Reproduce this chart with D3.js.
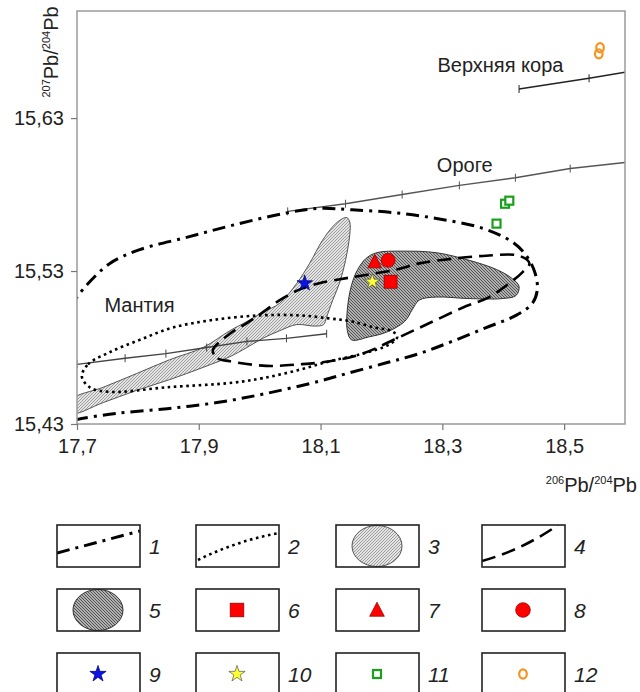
<!DOCTYPE html>
<html>
<head>
<meta charset="utf-8">
<script src="https://cdn.jsdelivr.net/npm/d3@7"></script>
<style>
  body { margin: 0; background: #fff; }
  svg { display: block; font-family: "Liberation Sans", Arial, sans-serif; }
</style>
</head>
<body>
<div id="chart"></div>
<script>
// ======================= DATA =======================================
const xTicks = [17.7, 17.9, 18.1, 18.3, 18.5];
const yTicks = [15.43, 15.53, 15.63];

// growth curves (206Pb/204Pb, 207Pb/204Pb)
const mantleCurve = [[17.700, 15.469], [17.779, 15.473], [17.846, 15.476], [17.913, 15.480],
  [17.979, 15.484], [18.044, 15.486], [18.110, 15.489]];
const orogeneCurve = [[18.046, 15.569], [18.141, 15.574], [18.234, 15.580], [18.328, 15.586],
  [18.420, 15.591], [18.510, 15.597], [18.600, 15.601]];
const crustCurve = [[18.426, 15.649], [18.541, 15.656], [18.600, 15.660]];

// field 1 (dash-dot, open at left axis)
const field1 = [[17.690, 15.506], [17.700, 15.513], [17.721, 15.523], [17.754, 15.535], [17.803, 15.544],
  [17.880, 15.552], [17.956, 15.560], [18.044, 15.568], [18.098, 15.571], [18.152, 15.570],
  [18.225, 15.568], [18.295, 15.564], [18.366, 15.558], [18.415, 15.549], [18.438, 15.540],
  [18.452, 15.529], [18.456, 15.518], [18.448, 15.509], [18.421, 15.501], [18.372, 15.493],
  [18.316, 15.484], [18.262, 15.476], [18.208, 15.470], [18.143, 15.463], [18.098, 15.458],
  [18.011, 15.450], [17.930, 15.444], [17.848, 15.440], [17.766, 15.437], [17.700, 15.433],
  [17.690, 15.432]];

// field 2 (dotted)
const field2 = [[17.708, 15.461], [17.718, 15.469], [17.754, 15.477], [17.803, 15.485], [17.857, 15.493],
  [17.923, 15.498], [18.000, 15.501], [18.066, 15.501], [18.115, 15.499], [18.152, 15.497],
  [18.189, 15.493], [18.216, 15.491], [18.226, 15.487], [18.213, 15.482], [18.169, 15.476],
  [18.115, 15.471], [18.061, 15.465], [18.005, 15.460], [17.956, 15.457], [17.848, 15.454],
  [17.754, 15.451], [17.721, 15.454]];

// field 3 (light grey)
const field3 = [[17.692, 15.446], [17.743, 15.454], [17.798, 15.463], [17.852, 15.472], [17.907, 15.480],
  [17.951, 15.491], [17.979, 15.497], [18.005, 15.503], [18.033, 15.509], [18.061, 15.522],
  [18.082, 15.535], [18.103, 15.550], [18.120, 15.559], [18.131, 15.563], [18.143, 15.565],
  [18.148, 15.562], [18.148, 15.554], [18.141, 15.537], [18.131, 15.522], [18.120, 15.511],
  [18.110, 15.500], [18.105, 15.495], [18.090, 15.494], [18.061, 15.495], [18.033, 15.491],
  [18.005, 15.486], [17.979, 15.480], [17.951, 15.474], [17.907, 15.467], [17.852, 15.459],
  [17.798, 15.452], [17.743, 15.444], [17.692, 15.437]];

// field 4 (dashed)
const field4 = [[17.923, 15.478], [17.931, 15.473], [17.951, 15.471], [18.011, 15.468], [18.066, 15.469],
  [18.115, 15.471], [18.169, 15.476], [18.225, 15.486], [18.279, 15.496], [18.333, 15.506],
  [18.377, 15.513], [18.410, 15.522], [18.431, 15.529], [18.443, 15.535], [18.426, 15.540],
  [18.372, 15.540], [18.316, 15.538], [18.262, 15.535], [18.225, 15.531], [18.152, 15.526],
  [18.098, 15.522], [18.066, 15.518], [18.033, 15.511], [18.005, 15.503], [17.979, 15.496],
  [17.951, 15.489]];

// field 5 (dark grey)
const field5 = [[18.192, 15.542], [18.234, 15.543], [18.290, 15.542], [18.344, 15.537], [18.389, 15.531],
  [18.415, 15.525], [18.426, 15.520], [18.421, 15.514], [18.398, 15.512], [18.344, 15.512],
  [18.290, 15.513], [18.262, 15.511], [18.251, 15.505], [18.238, 15.497], [18.208, 15.490],
  [18.180, 15.487], [18.151, 15.485], [18.144, 15.491], [18.144, 15.505], [18.151, 15.521],
  [18.161, 15.531], [18.174, 15.538]];

// samples
const sample6 = [[18.215, 15.523]];
const sample7 = [[18.189, 15.536]];
const sample8 = [[18.211, 15.537]];
const sample9 = [[18.074, 15.522]];
const sample10 = [[18.185, 15.523]];
const sample11 = [[18.389, 15.561], [18.403, 15.574], [18.410, 15.576]];
const sample12 = [[18.559, 15.676], [18.557, 15.672]];

const curveLabels = ["Верхняя кора", "Ороге", "Мантия"];
const curveLabelAt = [[18.292, 15.660], [18.291, 15.595], [17.745, 15.503]];
const legendLabels = ["1", "2", "3", "4", "5", "6", "7", "8", "9", "10", "11", "12"];

// ======================= CHART ======================================
const W = 640, H = 692;
const x = d3.scaleLinear().domain([17.7, 18.6]).range([77, 625]);
const y = d3.scaleLinear().domain([15.43, 15.70]).range([424, 11]);

const svg = d3.select("#chart").append("svg").attr("width", W).attr("height", H);
svg.append("rect").attr("width", W).attr("height", H).attr("fill", "#fff");

const defs = svg.append("defs");
defs.append("clipPath").attr("id", "plotClip")
  .append("rect").attr("x", 77).attr("y", 11).attr("width", 548).attr("height", 413);

const hatch = (id, bg, fg, dir) => {
  let p = defs.append("pattern").attr("id", id).attr("patternUnits", "userSpaceOnUse")
    .attr("width", 3).attr("height", 3);
  p.append("rect").attr("width", 3).attr("height", 3).attr("fill", bg);
  p.append("path")
    .attr("d", dir > 0 ? "M-1,1 l2,-2 M0,3 l3,-3 M2,4 l2,-2" : "M-1,2 l2,2 M0,0 l3,3 M2,-1 l2,2")
    .attr("stroke", fg).attr("stroke-width", 0.8);
};
hatch("hatchLight", "#e4e4e4", "#8c8c8c", 1);
hatch("hatchDark", "#b0b0b0", "#3a3a3a", -1);

const plot = svg.append("g").attr("clip-path", "url(#plotClip)");

const line = d3.line().x(d => x(d[0])).y(d => y(d[1]));
const smooth = d3.line().x(d => x(d[0])).y(d => y(d[1])).curve(d3.curveCatmullRom.alpha(0.5));
const closed = d3.line().x(d => x(d[0])).y(d => y(d[1])).curve(d3.curveCatmullRomClosed.alpha(0.5));

// grey fields
plot.append("path").attr("d", closed(field3))
  .attr("fill", "url(#hatchLight)").attr("stroke", "#555").attr("stroke-width", 1);
plot.append("path").attr("d", closed(field5))
  .attr("fill", "url(#hatchDark)").attr("stroke", "#333").attr("stroke-width", 1);

// growth curves with time ticks
const growth = (pts, color, skipLast) => {
  plot.append("path").attr("d", line(pts)).attr("fill", "none")
    .attr("stroke", color).attr("stroke-width", 1.4);
  plot.selectAll(null).data(skipLast ? pts.slice(0, -1) : pts).enter().append("line")
    .attr("x1", d => x(d[0])).attr("x2", d => x(d[0]))
    .attr("y1", d => y(d[1]) - 4).attr("y2", d => y(d[1]) + 4)
    .attr("stroke", color).attr("stroke-width", 1);
};
growth(mantleCurve, "#444", false);
growth(orogeneCurve, "#555", true);
growth(crustCurve, "#222", true);

// field outlines
plot.append("path").attr("d", smooth(field1)).attr("fill", "none")
  .attr("stroke", "#000").attr("stroke-width", 3).attr("stroke-dasharray", "13,6,3,6");
plot.append("path").attr("d", closed(field2)).attr("fill", "none")
  .attr("stroke", "#000").attr("stroke-width", 2.6).attr("stroke-dasharray", "2.6,3.6");
plot.append("path").attr("d", closed(field4)).attr("fill", "none")
  .attr("stroke", "#000").attr("stroke-width", 2.6).attr("stroke-dasharray", "14,7");

// frame and axes
svg.append("rect").attr("x", 77).attr("y", 11).attr("width", 548).attr("height", 413)
  .attr("fill", "none").attr("stroke", "#9a9a9a").attr("stroke-width", 1.5);

const yAxis = svg.append("g").attr("transform", "translate(77,0)")
  .call(d3.axisLeft(y).tickValues(yTicks).tickSize(6).tickPadding(7)
    .tickFormat(d => d3.format(".2f")(d).replace(".", ",")));
const xAxis = svg.append("g").attr("transform", "translate(0,424)")
  .call(d3.axisBottom(x).tickValues(xTicks).tickSize(6).tickPadding(9)
    .tickFormat(d => d3.format(".1f")(d).replace(".", ",")));
[yAxis, xAxis].forEach(a => {
  a.select(".domain").remove();
  a.selectAll(".tick line").attr("stroke", "#777").attr("stroke-width", 1.2);
  a.selectAll(".tick text").attr("fill", "#222").attr("font-size", 20)
    .attr("font-family", "'Liberation Sans', Arial, sans-serif");
});

// axis titles
const yTitle = svg.append("text").attr("transform", "translate(58,52) rotate(-90)")
  .attr("text-anchor", "middle").attr("fill", "#222").attr("font-size", 20);
yTitle.append("tspan").text("207").attr("font-size", 11).attr("dy", -8);
yTitle.append("tspan").text("Pb/").attr("dy", 8);
yTitle.append("tspan").text("204").attr("font-size", 11).attr("dy", -8);
yTitle.append("tspan").text("Pb").attr("dy", 8);

const xTitle = svg.append("text").attr("x", 637).attr("y", 492)
  .attr("text-anchor", "end").attr("fill", "#222").attr("font-size", 20);
xTitle.append("tspan").text("206").attr("font-size", 11).attr("dy", -8);
xTitle.append("tspan").text("Pb/").attr("dy", 8);
xTitle.append("tspan").text("204").attr("font-size", 11).attr("dy", -8);
xTitle.append("tspan").text("Pb").attr("dy", 8);

// curve labels
svg.selectAll(null).data(curveLabels).enter().append("text")
  .attr("x", (d, i) => x(curveLabelAt[i][0])).attr("y", (d, i) => y(curveLabelAt[i][1]))
  .attr("fill", "#222").attr("font-size", 20).text(d => d);

// ======================= SYMBOLS ====================================
const star = d3.symbol().type(d3.symbolStar);
const drawSymbol = (g, kind, cx, cy, k) => {
  if (kind === 6) {
    g.append("rect").attr("x", cx - 6.5 * k).attr("y", cy - 6.5 * k).attr("width", 13 * k).attr("height", 13 * k)
      .attr("fill", "#ff0000").attr("stroke", "#8b0000").attr("stroke-width", 0.7);
  } else if (kind === 7) {
    g.append("path").attr("d", `M${cx},${cy - 7.5 * k} L${cx + 7 * k},${cy + 6 * k} L${cx - 7 * k},${cy + 6 * k}Z`)
      .attr("fill", "#ff0000").attr("stroke", "#8b0000").attr("stroke-width", 0.7);
  } else if (kind === 8) {
    g.append("ellipse").attr("cx", cx).attr("cy", cy).attr("rx", 7 * k).attr("ry", 7 * k)
      .attr("fill", "#ff0000").attr("stroke", "#8b0000").attr("stroke-width", 0.7);
  } else if (kind === 9 || kind === 10) {
    g.append("path").attr("d", star.size(75 * k * k)()).attr("transform", `translate(${cx},${cy})`)
      .attr("fill", kind === 9 ? "#0a14e6" : "#ffff33").attr("stroke", kind === 9 ? "#000060" : "#555")
      .attr("stroke-width", 0.7);
  } else if (kind === 11) {
    g.append("rect").attr("x", cx - 4).attr("y", cy - 4).attr("width", 8).attr("height", 8)
      .attr("fill", "#fff").attr("stroke", "#1aa01a").attr("stroke-width", 2.2);
  } else if (kind === 12) {
    g.append("ellipse").attr("cx", cx).attr("cy", cy).attr("rx", 3.8).attr("ry", 4.6)
      .attr("fill", "none").attr("stroke", "#f7931e").attr("stroke-width", 2.2);
  }
};

const samples = [[6, sample6], [7, sample7], [8, sample8], [9, sample9], [10, sample10], [11, sample11], [12, sample12]];
const pts = svg.append("g");
samples.forEach(([kind, arr]) => arr.forEach(d => drawSymbol(pts, kind, x(d[0]), y(d[1]), 1)));

// ======================= LEGEND =====================================
const colX = [57, 196, 336, 482];
const rowY = [525, 589, 653];
const bw = 83, bh = 42;

legendLabels.forEach((lab, i) => {
  let bx = colX[i % 4], by = rowY[Math.floor(i / 4)];
  let g = svg.append("g");
  let cid = "lg" + i;
  defs.append("clipPath").attr("id", cid).append("rect")
    .attr("x", bx).attr("y", by).attr("width", bw).attr("height", bh);
  let inner = g.append("g").attr("clip-path", `url(#${cid})`);
  let k = i + 1;
  if (k === 1) {
    inner.append("path").attr("d", `M${bx},${by + 28} L${bx + bw},${by + 6}`)
      .attr("stroke", "#000").attr("stroke-width", 3).attr("stroke-dasharray", "13,6,3,6").attr("fill", "none");
  } else if (k === 2) {
    inner.append("path").attr("d", `M${bx + 2},${by + 35} Q${bx + 40},${by + 16} ${bx + bw},${by + 8}`)
      .attr("stroke", "#000").attr("stroke-width", 2.6).attr("stroke-dasharray", "2.6,3.6").attr("fill", "none");
  } else if (k === 4) {
    inner.append("path").attr("d", `M${bx},${by + 36} Q${bx + 40},${by + 25} ${bx + 76},${by}`)
      .attr("stroke", "#000").attr("stroke-width", 2.6).attr("stroke-dasharray", "14,7").attr("fill", "none");
  } else if (k === 3 || k === 5) {
    inner.append("ellipse").attr("cx", bx + 41).attr("cy", by + 21).attr("rx", 25).attr("ry", 20.5)
      .attr("fill", k === 3 ? "url(#hatchLight)" : "url(#hatchDark)")
      .attr("stroke", k === 3 ? "#555" : "#333").attr("stroke-width", 1);
  } else {
    drawSymbol(inner, k, bx + 41, by + 21, 1.05);
  }
  g.append("rect").attr("x", bx).attr("y", by).attr("width", bw).attr("height", bh)
    .attr("fill", "none").attr("stroke", "#222").attr("stroke-width", 1.6);
  g.append("text").attr("x", bx + bw + 9).attr("y", by + 29)
    .attr("font-size", 21).attr("font-style", "italic").attr("fill", "#222").text(lab);
});
</script>
</body>
</html>
